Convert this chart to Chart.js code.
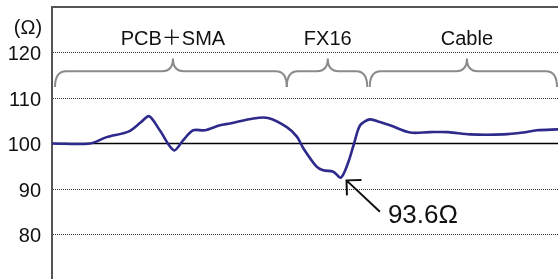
<!DOCTYPE html>
<html>
<head>
<meta charset="utf-8">
<script src="https://cdn.jsdelivr.net/npm/chart.js@4.4.0/dist/chart.umd.min.js"></script>
<style>
  html, body { margin: 0; padding: 0; background: #fff; overflow: hidden; }
  #wrap { position: absolute; left: 0; top: 0; width: 558px; height: 280px; }
</style>
</head>
<body>
<div id="wrap"><canvas id="chart" width="558" height="280"></canvas></div>
<script>
// Differential impedance profile — PCB+SMA / FX16 / Cable

// ── Data ──────────────────────────────────────────────────────────────────────

const POS  = [0, 7.5, 10.8, 15.1, 17.5, 19.2, 21.3, 24.1, 25.9, 27.9, 30.2, 33.2, 35.2, 39.8, 42.7,
              46.4, 48.4, 49.7, 52.3, 53.6, 55.6, 57.1, 58.5, 59.7, 60.9, 62.8, 64.8, 66.8,
              70.8, 74.7, 78.3, 82.6, 89.2, 93.1, 95.8, 100];
const OHMS = [100, 100, 101.4, 102.6, 104.6, 106.0, 102.9, 98.5, 100.7, 102.9, 102.9, 104.0, 104.4, 105.5, 105.6,
              103.6, 101.5, 98.9, 94.9, 94.1, 93.8, 92.5, 95.7, 100.0, 104.0, 105.3, 104.7, 104.0,
              102.4, 102.5, 102.5, 102.0, 102.0, 102.4, 102.9, 103.1];

const Y_TICKS = [80, 90, 100, 110, 120];
const Y_MIN = 70;
const Y_MAX = 130;
const REF_OHMS = 100;

const SEG_LABELS = ['PCB＋SMA', 'FX16', 'Cable'];
const SEG_START  = [0.6, 46.4, 62.8];
const SEG_END    = [46.4, 62.3, 99.8];
const SEG_TIP    = [23.9, 54.5, 82.0];

const MIN_LABEL = '93.6Ω';
const MIN_AT    = { x: 58.2, y: 91.9 };   // arrow head
const MIN_TAIL  = { x: 64.8, y: 85.0 };   // arrow tail / text anchor

// ── Overlay (frame, braces, annotation) ──────────────────────────────────────

const FONT = '"Liberation Sans", Arial, "Noto Sans CJK JP", sans-serif';

function drawBrace(ctx, x0, x1, xt, yb, yh, yt) {
  const r = 11;
  ctx.beginPath();
  ctx.moveTo(x0, yb);
  ctx.quadraticCurveTo(x0, yh, x0 + r, yh);
  ctx.lineTo(xt - r, yh);
  ctx.quadraticCurveTo(xt, yh, xt, yt);
  ctx.quadraticCurveTo(xt, yh, xt + r, yh);
  ctx.lineTo(x1 - r, yh);
  ctx.quadraticCurveTo(x1, yh, x1, yb);
  ctx.stroke();
}

const overlay = {
  id: 'overlay',
  beforeDatasetsDraw(chart) {
    const { ctx, chartArea: a } = chart;
    ctx.save();
    ctx.strokeStyle = '#555';
    ctx.lineWidth = 2;
    ctx.beginPath();
    ctx.moveTo(a.left - 1, a.top);
    ctx.lineTo(a.right, a.top);
    ctx.stroke();
    ctx.restore();
  },
  afterDraw(chart) {
    const { ctx, scales: { x, y } } = chart;
    ctx.save();

    // unit label
    ctx.fillStyle = '#111';
    ctx.font = '20px ' + FONT;
    ctx.textAlign = 'center';
    ctx.textBaseline = 'middle';
    ctx.fillText('(Ω)', 28, 28);

    // braces + section labels
    ctx.strokeStyle = '#8a8a8a';
    ctx.lineWidth = 2;
    const yb = y.getPixelForValue(112.4);
    const yh = y.getPixelForValue(115.9);
    const yt = y.getPixelForValue(118.7);
    const yl = y.getPixelForValue(122.9);
    SEG_LABELS.forEach((label, i) => {
      const x0 = x.getPixelForValue(SEG_START[i]);
      const x1 = x.getPixelForValue(SEG_END[i]);
      const xt = x.getPixelForValue(SEG_TIP[i]);
      drawBrace(ctx, x0, x1, xt, yb, yh, yt);
      ctx.fillText(label, xt, yl);
    });

    // min annotation
    const hx = x.getPixelForValue(MIN_AT.x), hy = y.getPixelForValue(MIN_AT.y);
    const tx = x.getPixelForValue(MIN_TAIL.x), ty = y.getPixelForValue(MIN_TAIL.y);
    const ang = Math.atan2(ty - hy, tx - hx);
    const len = 15;
    ctx.strokeStyle = '#111';
    ctx.lineWidth = 2;
    ctx.beginPath();
    ctx.moveTo(tx, ty);
    ctx.lineTo(hx, hy);
    ctx.moveTo(hx + len * Math.cos(ang - Math.PI / 4), hy + len * Math.sin(ang - Math.PI / 4));
    ctx.lineTo(hx, hy);
    ctx.lineTo(hx + len * Math.cos(ang + Math.PI / 4), hy + len * Math.sin(ang + Math.PI / 4));
    ctx.stroke();

    ctx.font = '26px ' + FONT;
    ctx.textAlign = 'left';
    ctx.fillText(MIN_LABEL, tx + 8, ty + 4);
    ctx.restore();
  },
};

// ── Chart ─────────────────────────────────────────────────────────────────────

const ctx = document.getElementById('chart').getContext('2d');

new Chart(ctx, {
  type: 'line',
  data: {
    datasets: [
      {
        data: POS.map((p, i) => ({ x: p, y: OHMS[i] })),
        borderColor: '#2e2a8c',
        borderWidth: 2.6,
        tension: 0.3,
        pointRadius: 0,
        order: 0,
      },
      {
        data: [{ x: POS[0], y: REF_OHMS }, { x: POS[POS.length - 1], y: REF_OHMS }],
        borderColor: '#000',
        borderWidth: 1.5,
        pointRadius: 0,
        order: 1,
      },
    ],
  },
  options: {
    responsive: false,
    animation: false,
    layout: { padding: { top: 7, left: 0, right: 0, bottom: 0 } },
    plugins: { legend: { display: false }, tooltip: { enabled: false } },
    scales: {
      x: { type: 'linear', min: POS[0], max: POS[POS.length - 1], display: false },
      y: {
        min: Y_MIN,
        max: Y_MAX,
        afterBuildTicks: (scale) => { scale.ticks = [Y_MIN, ...Y_TICKS, Y_MAX].map((v) => ({ value: v })); },
        afterFit: (scale) => { scale.width = 52; scale.paddingTop = 0; scale.paddingBottom = 0; },
        ticks: {
          padding: 11,
          labelOffset: 2,
          color: '#111',
          font: { size: 20, family: FONT },
          callback: (v) => (Y_TICKS.includes(v) ? String(v) : null),
        },
        grid: {
          drawTicks: false,
          lineWidth: 1,
          color: (c) => (c.tick && c.tick.value === REF_OHMS ? 'rgba(0,0,0,0)' : '#333'),
        },
        border: { color: '#555', width: 2, dash: [1, 1] },
      },
    },
  },
  plugins: [overlay],
});
</script>
</body>
</html>
